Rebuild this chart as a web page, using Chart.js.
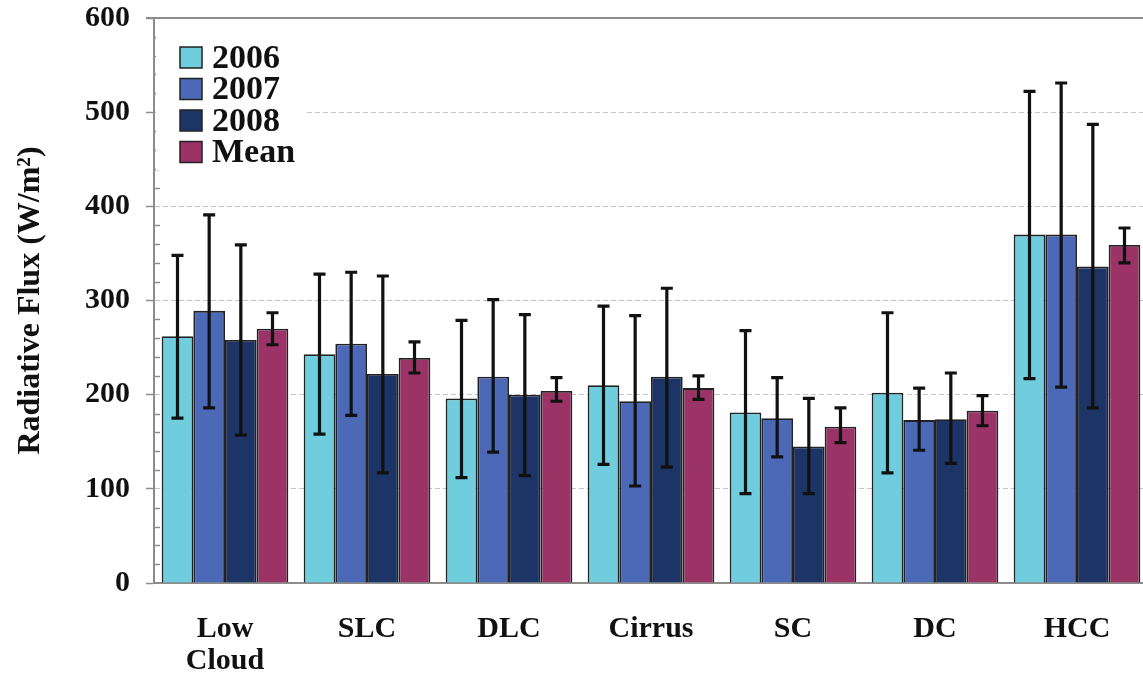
<!DOCTYPE html>
<html>
<head>
<meta charset="utf-8">
<script src="https://cdn.jsdelivr.net/npm/chart.js@4"></script>
<style>
  html, body { margin: 0; padding: 0; background: #fff; overflow: hidden; }
  #wrap { position: relative; width: 1148px; height: 682px; }
</style>
</head>
<body>
<div id="wrap"><canvas id="fluxChart"></canvas></div>
<script>
// Radiative flux by cloud type, 2006-2008 and mean, with error bars
const categories = [['Low', 'Cloud'], 'SLC', 'DLC', 'Cirrus', 'SC', 'DC', 'HCC'];
const seriesNames = ['2006', '2007', '2008', 'Mean'];

const flux2006 = [262, 243, 196, 210, 181, 202, 370];
const flux2007 = [289, 254, 219, 193, 175, 173, 370];
const flux2008 = [258, 222, 200, 219, 145, 174, 336];
const fluxMean = [270, 239, 204, 207, 166, 183, 359];

// error bar lower / upper ends
const low2006 = [175, 158, 112, 126, 95, 117, 217];
const high2006 = [348, 328, 279, 294, 268, 287, 522];
const low2007 = [186, 178, 139, 103, 134, 141, 208];
const high2007 = [391, 330, 301, 284, 218, 207, 531];
const low2008 = [157, 117, 114, 123, 95, 127, 186];
const high2008 = [359, 326, 285, 313, 196, 223, 487];
const lowMean = [253, 223, 193, 195, 149, 167, 340];
const highMean = [287, 256, 218, 220, 186, 199, 377];

const yTicks = [0, 100, 200, 300, 400, 500, 600];

const CYAN = '#6fcddd';
const MID_BLUE = '#4b69b6';
const NAVY = '#1c3566';
const PLUM = '#9b3367';
const EDGE = '#222';
const AXIS = '#8c8c8c';
const FONT = "'Liberation Serif', 'Times New Roman', serif";

const errors = [
  { low: low2006, high: high2006 },
  { low: low2007, high: high2007 },
  { low: low2008, high: high2008 },
  { low: lowMean, high: highMean },
];

// error bars drawn from the bar elements + y scale
const errorBarPlugin = {
  id: 'errorBars',
  afterDatasetsDraw(chart) {
    const ctx = chart.ctx;
    const y = chart.scales.y;
    ctx.save();
    ctx.strokeStyle = '#111';
    ctx.lineWidth = 3.2;
    chart.data.datasets.forEach((ds, i) => {
      const meta = chart.getDatasetMeta(i);
      meta.data.forEach((bar, j) => {
        const yLo = y.getPixelForValue(errors[i].low[j]);
        const yHi = y.getPixelForValue(errors[i].high[j]);
        const x = bar.x;
        ctx.beginPath();
        ctx.moveTo(x, yLo); ctx.lineTo(x, yHi);
        ctx.moveTo(x - 6, yLo); ctx.lineTo(x + 6, yLo);
        ctx.moveTo(x - 6, yHi); ctx.lineTo(x + 6, yHi);
        ctx.stroke();
      });
    });
    ctx.restore();
  },
};

// minor ticks, top frame line and the boxed legend inside the plot
const framePlugin = {
  id: 'frame',
  afterDraw(chart) {
    const ctx = chart.ctx;
    const area = chart.chartArea;
    const y = chart.scales.y;
    ctx.save();
    ctx.strokeStyle = AXIS;
    ctx.lineWidth = 1.5;
    for (let v = 20; v < 600; v += 20) {
      if (v % 100 === 0) continue;
      const py = Math.round(y.getPixelForValue(v)) + 0.5;
      ctx.beginPath();
      ctx.moveTo(area.left, py);
      ctx.lineTo(area.left + 6, py);
      ctx.stroke();
    }
    ctx.lineWidth = 2;
    ctx.beginPath();
    ctx.moveTo(area.left - 8, area.top);
    ctx.lineTo(area.right, area.top);
    ctx.stroke();

    // legend
    const lx = area.left + 2, ly = area.top + 12;
    ctx.fillStyle = '#fff';
    ctx.fillRect(lx, ly, 150, 140);
    ctx.font = 'bold 34px ' + FONT;
    ctx.textBaseline = 'middle';
    chart.data.datasets.forEach((ds, i) => {
      const by = area.top + 29 + i * 31.5;
      ctx.fillStyle = ds.backgroundColor;
      ctx.fillRect(area.left + 26, by, 22, 21);
      ctx.strokeStyle = EDGE;
      ctx.lineWidth = 1.5;
      ctx.strokeRect(area.left + 26, by, 22, 21);
      ctx.fillStyle = '#111';
      ctx.fillText(ds.label, area.left + 58, by + 12);
    });
    ctx.restore();
  },
};

const colours = [CYAN, MID_BLUE, NAVY, PLUM];
const values = [flux2006, flux2007, flux2008, fluxMean];

new Chart(document.getElementById('fluxChart'), {
  type: 'bar',
  data: {
    labels: categories,
    datasets: seriesNames.map((name, i) => ({
      label: name,
      data: values[i],
      backgroundColor: colours[i],
      borderColor: EDGE,
      borderWidth: 1.8,
      borderSkipped: 'bottom',
      categoryPercentage: 0.892,
      barPercentage: 1.0,
    })),
  },
  options: {
    responsive: true,
    maintainAspectRatio: false,
    animation: false,
    layout: { padding: { top: 18, right: 0, left: 0, bottom: 0 } },
    plugins: {
      legend: { display: false },
      tooltip: { enabled: false },
    },
    scales: {
      x: {
        grid: { display: false, drawTicks: false },
        border: { color: AXIS, width: 2 },
        ticks: {
          color: '#111',
          padding: 30,
          maxRotation: 0,
          font: { family: FONT, size: 30, weight: 'bold', lineHeight: 1.07 },
        },
        afterFit: (scale) => { scale.height = 99; },
      },
      y: {
        min: 0,
        max: 600,
        afterBuildTicks: (scale) => { scale.ticks = yTicks.map((v) => ({ value: v })); },
        grid: { color: '#c4c4c4', lineWidth: 1, tickColor: AXIS, tickLength: 8, tickWidth: 1.5 },
        border: { color: AXIS, width: 2, dash: [5, 3] },
        ticks: {
          color: '#111',
          padding: 16,
          font: { family: FONT, size: 30, weight: 'bold' },
        },
        title: {
          display: true,
          text: 'Radiative Flux (W/m²)',
          color: '#111',
          padding: { top: 12, bottom: 0 },
          font: { family: FONT, size: 32, weight: 'bold' },
        },
        afterFit: (scale) => {
          scale.width = 154;
          scale.paddingTop = 0;
          scale.paddingBottom = 0;
        },
      },
    },
  },
  plugins: [errorBarPlugin, framePlugin],
});
</script>
</body>
</html>
